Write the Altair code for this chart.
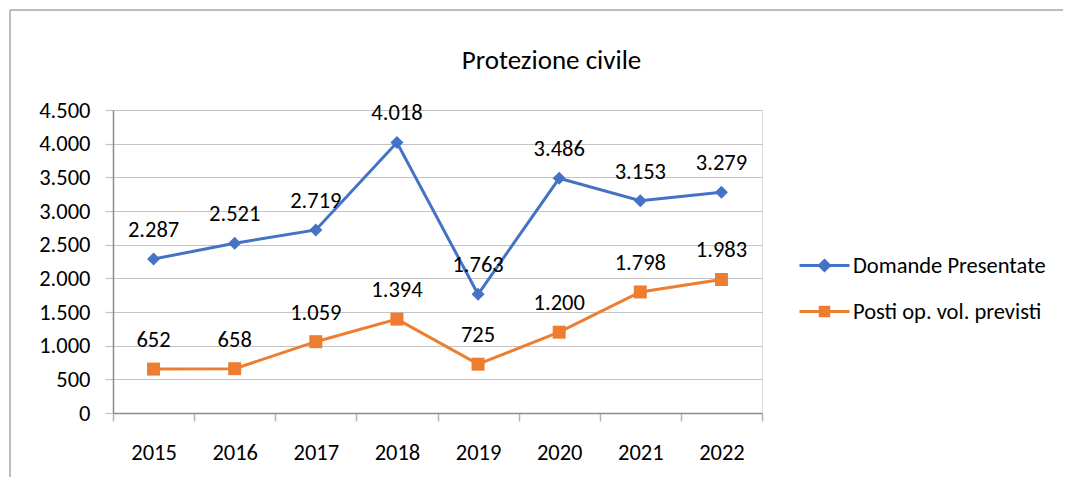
import altair as alt
import pandas as pd

years = ["2015", "2016", "2017", "2018", "2019", "2020", "2021", "2022"]
domande = [2287, 2521, 2719, 4018, 1763, 3486, 3153, 3279]
posti = [652, 658, 1059, 1394, 725, 1200, 1798, 1983]
series_names = ["Domande Presentate", "Posti op. vol. previsti"]
colors = ["#4472C4", "#ED7D31"]
shapes = ["diamond", "square"]
y_ticks = [0, 500, 1000, 1500, 2000, 2500, 3000, 3500, 4000, 4500]

rows = []
for name, vals in zip(series_names, [domande, posti]):
    for yr, v in zip(years, vals):
        rows.append({"anno": yr, "serie": name, "valore": v,
                     "etichetta": f"{v:,}".replace(",", ".")})
df = pd.DataFrame(rows)

FONT = "Carlito, Lato, sans-serif"
FS = 22.5

x_enc = alt.X(
    "anno:O", title=None,
    scale=alt.Scale(type="band", paddingInner=0, paddingOuter=0),
    axis=alt.Axis(labelAngle=0, tickBand="extent", domainColor="#8c8c8c",
                  domainWidth=1.5, tickColor="#b4b4b4", tickWidth=1.5, tickSize=8,
                  labelPadding=20, grid=False, labelFontSize=FS, labelFont=FONT,
                  labelColor="#000000"),
)
y_enc = alt.Y(
    "valore:Q", title=None,
    scale=alt.Scale(domain=[0, 4500], nice=False),
    axis=alt.Axis(values=y_ticks,
                  labelExpr="replace(format(datum.value, ','), ',', '.')",
                  domainColor="#8c8c8c", domainWidth=1.5,
                  gridColor="#c4c4c4", gridWidth=1.2,
                  tickColor="#c4c4c4", tickWidth=1.2, tickSize=8,
                  labelPadding=15, labelFontSize=FS, labelFont=FONT,
                  labelColor="#000000"),
)

base = alt.Chart(df)
layers = []
for name, col, shp in zip(series_names, colors, shapes):
    sub = base.transform_filter(alt.datum.serie == name)
    layers.append(sub.mark_line(color=col, strokeWidth=3).encode(x=x_enc, y=y_enc))
    layers.append(sub.mark_point(shape=shp, filled=True, color=col, size=169,
                                 opacity=1).encode(x=x_enc, y=y_enc))

layers.append(base.mark_text(dy=-29, fontSize=FS, font=FONT, color="#000000",
                             baseline="middle").encode(x=x_enc, y=y_enc,
                                                       text="etichetta:N"))

diamond_path = "M-1,0L1,0M0,-0.2L0.2,0L0,0.2L-0.2,0Z"
square_path = "M-1,0L1,0M-0.17,-0.17L0.17,-0.17L0.17,0.17L-0.17,0.17Z"
leg = alt.Legend(title=None, orient="none", legendX=685, legendY=129,
                 symbolSize=2500, symbolStrokeWidth=3, rowPadding=8,
                 labelFontSize=FS, labelFont=FONT, labelColor="#000000",
                 labelOffset=2, labelLimit=400)
layers.append(
    base.transform_filter("false").mark_point(filled=True, strokeWidth=3, opacity=1).encode(
        x=x_enc, y=y_enc,
        color=alt.Color("serie:N", scale=alt.Scale(domain=series_names, range=colors), legend=leg),
        stroke=alt.Stroke("serie:N", scale=alt.Scale(domain=series_names, range=colors), legend=leg),
        shape=alt.Shape("serie:N", scale=alt.Scale(domain=series_names,
                                                   range=[diamond_path, square_path]), legend=leg),
    )
)

frame = alt.Data(values=[{"k": 1}])
layers.append(alt.Chart(frame).mark_rule(color="#a6a6a6", strokeWidth=1.5).encode(
    x=alt.value(-103), x2=alt.value(950), y=alt.value(-100)))
layers.append(alt.Chart(frame).mark_rule(color="#a6a6a6", strokeWidth=1.5).encode(
    x=alt.value(-103), y=alt.value(-100), y2=alt.value(367)))

chart = alt.layer(*layers).properties(
    width=649, height=303,
    autosize=alt.AutoSizeParams(type="none"),
    padding={"left": 105, "top": 102, "right": 303, "bottom": 64},
    title=alt.TitleParams("Protezione civile", anchor="middle", frame="group", dx=114,
                          offset=-87, baseline="alphabetic",
                          fontSize=27, font=FONT, fontWeight="normal", color="#000000"),
).configure_view(stroke=None).configure(background="white")

chart.save("out.html", embed_options={"renderer": "svg", "actions": False})
